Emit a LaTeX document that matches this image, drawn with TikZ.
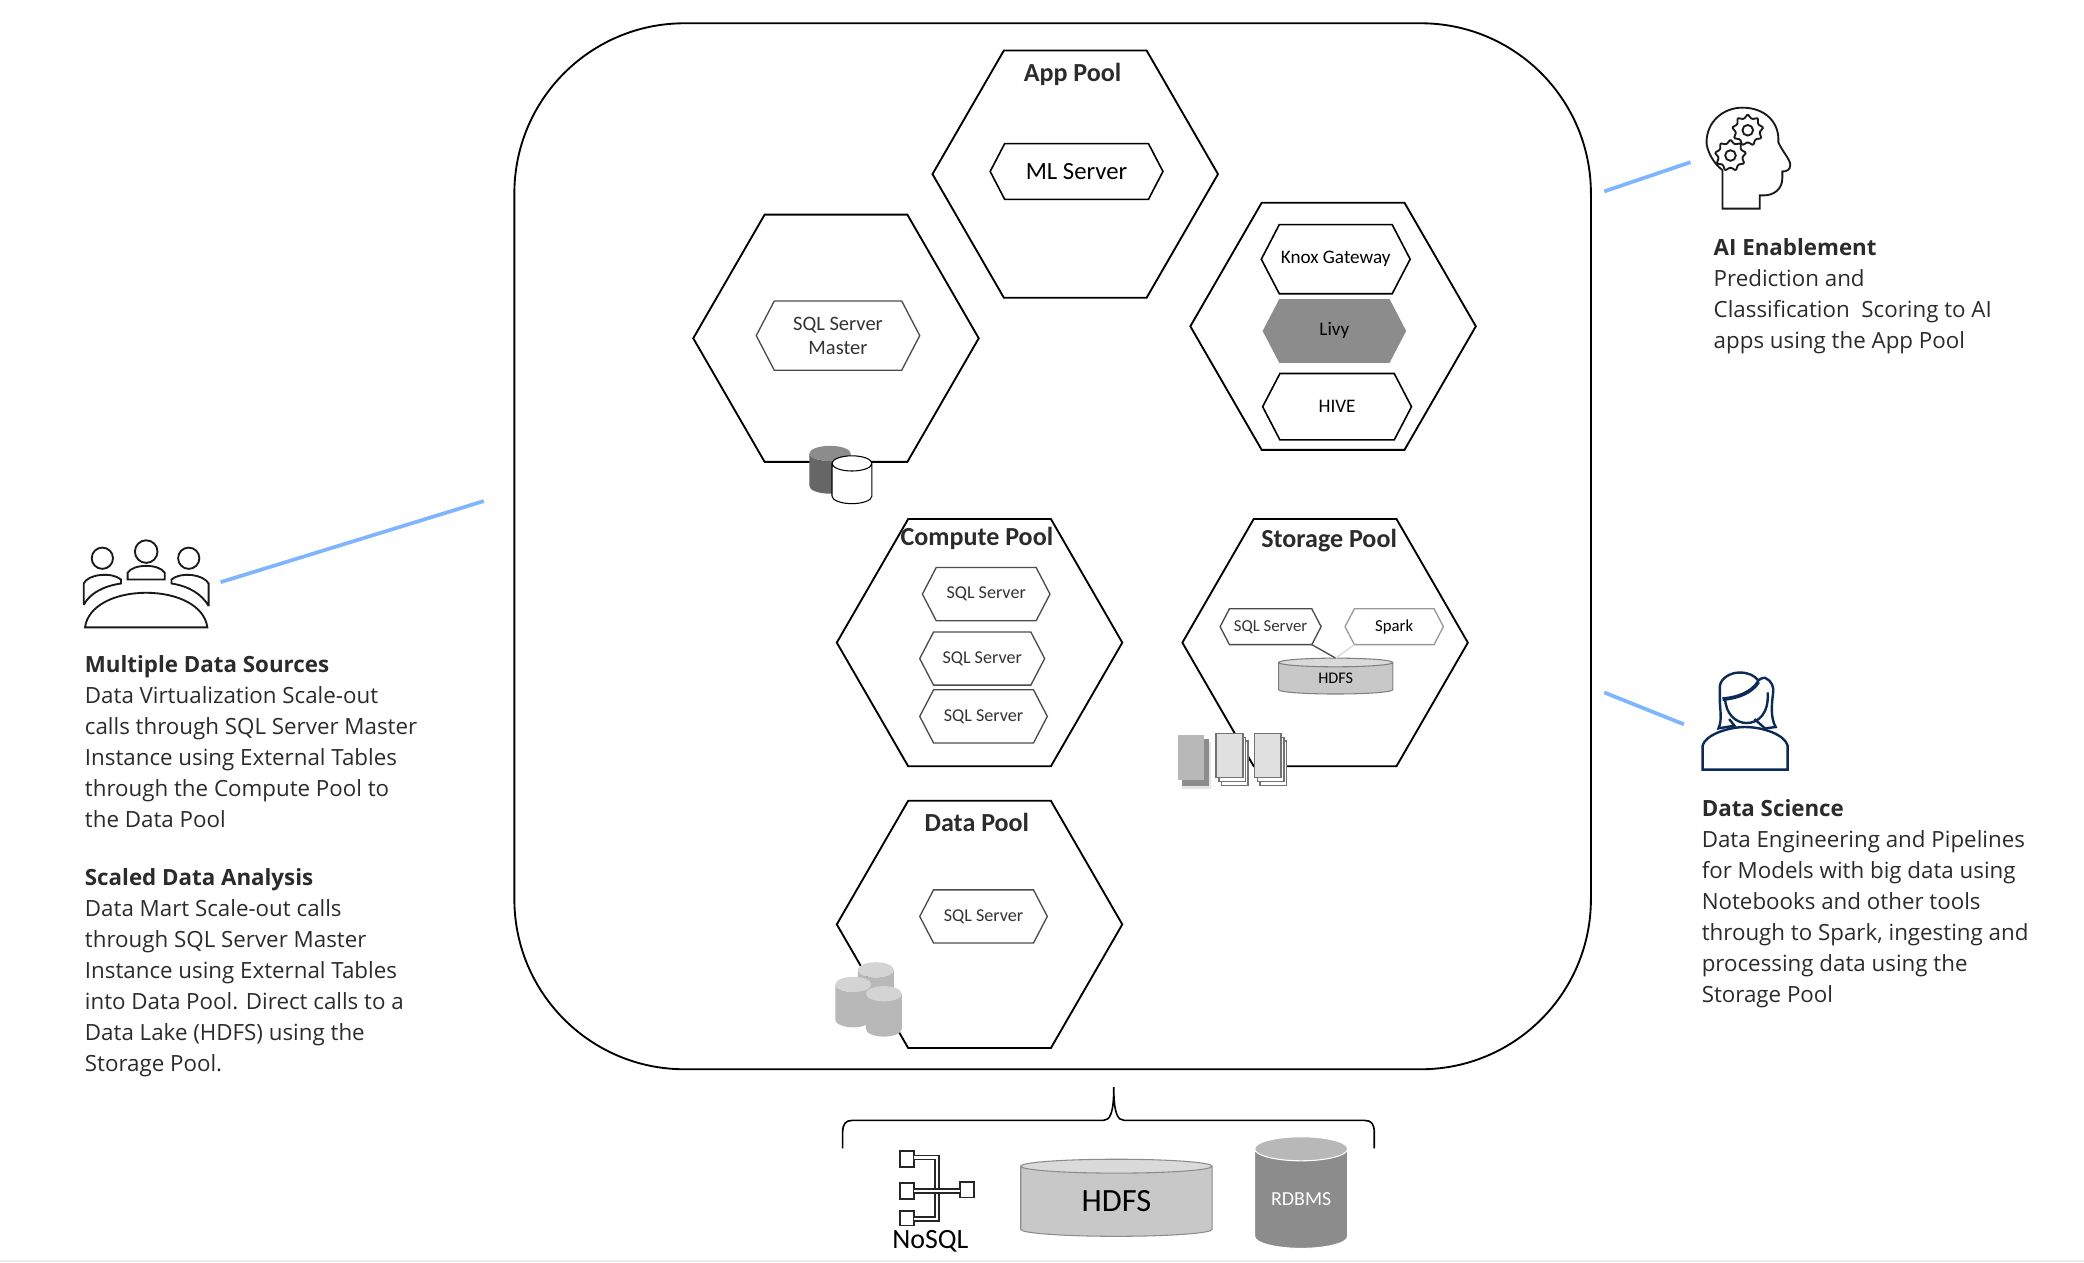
\documentclass[tikz,border=0pt]{standalone}
\usepackage{fontspec}
\setmainfont{Open Sans}
\newfontfamily\poolfont{Carlito}
\usetikzlibrary{shapes.geometric,shapes.symbols}
\definecolor{inktext}{HTML}{2B2B2B}
\definecolor{linkblue}{HTML}{7FB5FF}
\definecolor{navyline}{HTML}{0B2A55}
\definecolor{cylgray}{HTML}{C8C8C8}
\definecolor{cyltop}{HTML}{DADADA}

\begin{document}
\begin{tikzpicture}[x=0.5pt,y=-0.5pt,
    pool/.style={draw, line width=0.7pt, regular polygon, regular polygon sides=6, minimum size=107.4pt, inner sep=0pt, outer sep=0pt},
    pooltitle/.style={font=\poolfont\bfseries\fontsize{9.8}{12}\selectfont, text=inktext, inner sep=0pt},
    svc/.style={draw=black!70, line width=0.5pt, fill=white, signal, signal to=east and west, signal pointer angle=125, inner sep=0pt, outer sep=0pt, font=\poolfont\fontsize{6.8}{9.2}\selectfont, text=black!80, align=center},
    svcb/.style={svc, draw=black, line width=0.6pt, text=black},
    db/.style={cylinder, shape border rotate=90, cylinder uses custom fill, inner sep=0pt, outer sep=0pt, line width=0.4pt},
    blurb/.style={anchor=north west, align=left, inner sep=0pt, text=inktext, font=\fontsize{8.4}{11.65}\selectfont},
    link/.style={linkblue, line width=1.4pt},
    icon/.style={line width=0.7pt, black!90},
    doc/.style={draw=black!55, fill=black!12, line width=0.6pt}]
    \useasboundingbox (0,0) rectangle (1568,949.6);
    \fill[black!8] (0,948) rectangle (1568,949.6);

    % cluster
    \node[draw, line width=0.7pt, rounded corners=64pt, minimum width=405pt, minimum height=393.5pt, outer sep=0pt] (cluster) at (792,411) {};

    % pools
    \node[pool] (apppool) at (809,131) {};
    \node[pool] (masterpool) at (629,254.5) {};
    \node[pool] (gatewaypool) at (1003,245.5) {};
    \node[pool] (computepool) at (737,483.5) {};
    \node[pool] (storagepool) at (997,483.5) {};
    \node[pool] (datapool) at (737,695.5) {};

    \node[pooltitle] (apptitle) at (807,56) {App Pool};
    \node[pooltitle] (computetitle) at (735,405) {Compute Pool};
    \node[pooltitle] (storagetitle) at (1000,407) {Storage Pool};
    \node[pooltitle] (datatitle) at (735,619) {Data Pool};

    % services
    \node[svcb, minimum width=65pt, minimum height=21pt, font=\poolfont\fontsize{9.3}{11}\selectfont] (mlserver) at (810,129) {ML Server};
    \node[svc, minimum width=61.5pt, minimum height=26pt, font=\poolfont\fontsize{7.7}{9}\selectfont] (master) at (630.5,252.5) {SQL Server\\Master};
    \node[svcb, minimum width=56pt, minimum height=26pt, font=\poolfont\fontsize{7.2}{9}\selectfont] (knox) at (1005,195) {Knox Gateway};
    \node[svc, draw=none, fill=black!45, text=black, minimum width=54pt, minimum height=24pt, font=\poolfont\fontsize{7.2}{9}\selectfont] (livy) at (1004,249) {Livy};
    \node[svcb, minimum width=56pt, minimum height=25pt, font=\poolfont\fontsize{7.2}{9}\selectfont] (hive) at (1006,306) {HIVE};

    \node[svc, minimum width=48pt, minimum height=20pt] (computea) at (742,447) {SQL Server};
    \node[svc, minimum width=47pt, minimum height=20pt] (computeb) at (739,495.5) {SQL Server};
    \node[svc, minimum width=48pt, minimum height=20pt] (computec) at (740,539) {SQL Server};
    \node[svc, minimum width=48pt, minimum height=20pt] (datasql) at (740,689.5) {SQL Server};

    \node[svc, minimum width=38pt, minimum height=13.5pt, font=\poolfont\fontsize{6.3}{8}\selectfont] (storagesql) at (956,471.5) {SQL Server};
    \node[svc, draw=black!40, text=black, minimum width=37pt, minimum height=13.5pt, font=\poolfont\fontsize{6.3}{8}\selectfont] (spark) at (1049,471.5) {Spark};
    \node[db, draw=black!50, cylinder body fill=cylgray, cylinder end fill=cyltop, aspect=0.25, minimum width=43pt, minimum height=13.5pt, font=\poolfont\fontsize{6.1}{8}\selectfont, text=black] (storagehdfs) at (1005,510.5) {HDFS};
    \draw[black!70, line width=0.5pt] (storagesql.south east)--(storagehdfs.top);
    \draw[black!15, line width=0.5pt] (spark.south west)--(storagehdfs.top);

    % master disks
    \node[db, cylinder body fill=black!60, cylinder end fill=black!45, aspect=0.5, minimum width=15.5pt, minimum height=18pt] (masterdark) at (624.5,356.5) {\hphantom{00}};
    \node[db, draw=black, cylinder body fill=white, cylinder end fill=white, aspect=0.5, minimum width=15pt, minimum height=18pt] (masterwhite) at (641,364) {\hphantom{00}};

    % data disks
    \foreach \dname/\dx/\dy in {dataa/659/746, datab/642/757, datac/665/764}
        \node[db, cylinder body fill=black!28, cylinder end fill=black!17, aspect=0.5, minimum width=13.5pt, minimum height=19pt] (\dname) at (\dx,\dy) {\hphantom{00}};

    % storage documents
    \begin{scope}[shift={(886,553)}]
        \fill[black!10] (3,5) rectangle (25,41);
        \fill[black!45] (3,3) rectangle (24,38);
        \fill[black!28] (0,0) rectangle (20,34);
    \end{scope}
    \foreach \sx in {915,944} {
        \begin{scope}[shift={(\sx,552)}]
            \draw[doc, fill=white] (4,5.5) rectangle (24,39);
            \draw[doc, fill=white] (2,3) rectangle (22,36);
            \draw[doc] (0,0) rectangle (20,33);
        \end{scope}
    }

    % sources below the cluster
    \draw[line width=0.6pt] (634,864) -- (634,852) .. controls (634,846) and (636,843) .. (641,843) -- (830,843) .. controls (835,843) and (838,838) .. (838,818) .. controls (838,838) and (841,843) .. (846,843) -- (1027,843) .. controls (1032,843) and (1034,846) .. (1034,852) -- (1034,864);
    \node[db, draw=black!45, cylinder body fill=cylgray, cylinder end fill=cyltop, aspect=0.2, minimum width=72pt, minimum height=29pt, font=\poolfont\fontsize{12.2}{15}\selectfont, text=black] (hdfs) at (840,904) {HDFS};
    \node[db, draw=white, cylinder body fill=black!45, cylinder end fill=black!28, aspect=0.4, minimum width=35pt, minimum height=42pt, font=\poolfont\fontsize{7.5}{9}\selectfont, text=white] (rdbms) at (979,902) {RDBMS};
    \begin{scope}[line width=0.7pt, black!85]
        \draw (677,866) rectangle (688,878);
        \draw (677,890) rectangle (688,902);
        \draw (677,911) rectangle (688,922);
        \draw (722,889) rectangle (733,901);
        \draw[double=white, double distance=0.9pt, line width=0.6pt] (688,871) -| (705,917) -- (688,917);
        \draw[double=white, double distance=0.9pt, line width=0.6pt] (688,896) -- (722,896);
    \end{scope}
    \node[font=\poolfont\fontsize{10.5}{12}\selectfont, text=black, inner sep=0pt] (nosql) at (700,934) {NoSQL};

    % people icon
    \begin{scope}[icon]
        \draw (77,420) circle (8);
        \draw (110,415) circle (8.5);
        \draw (142,420) circle (8);
        \draw (64,472) .. controls (66,456) and (86,446) .. (110,446) .. controls (134,446) and (154,456) .. (156,472) -- cycle;
        \draw (63,455) -- (63,439) .. controls (66,432) and (84,430) .. (91,436) -- (91,439) .. controls (78,441) and (68,446) .. (63,455);
        \draw (96,436) -- (96,431) .. controls (100,424) and (120,424) .. (124,431) -- (124,436) -- cycle;
        \draw (157,456) -- (157,439) .. controls (153,432) and (136,430) .. (129,436) -- (129,439) .. controls (142,441) and (152,447) .. (157,456);
    \end{scope}
    \coordinate (peoplelink) at (166,438);
    \coordinate (clusterlinka) at (364,377);
    \draw[link] (peoplelink)--(clusterlinka);

    % head icon
    \begin{scope}[icon]
        \draw (1296,157) -- (1296,128) .. controls (1288,122) and (1284,112) .. (1284,107) .. controls (1284,92) and (1296,81) .. (1311,81) .. controls (1328,81) and (1339,92) .. (1338,107) .. controls (1341,114) and (1347,120) .. (1347,124) .. controls (1347,128) and (1344,129) .. (1341,129) -- (1341,134) .. controls (1341,142) and (1335,147) .. (1327,147) -- (1324,147) -- (1324,157) -- cycle;
        \node[draw, star, star points=9, star point ratio=1.35, minimum size=12pt, inner sep=0pt, rounded corners=0.4pt] (gearup) at (1315,98) {};
        \draw (gearup.center) circle (4);
        \node[draw, star, star points=9, star point ratio=1.35, minimum size=12pt, inner sep=0pt, rounded corners=0.4pt] (geardown) at (1302,117) {};
        \draw (geardown.center) circle (4);
    \end{scope}
    \coordinate (headlink) at (1272,122);
    \coordinate (clusterlinkb) at (1207,144);
    \draw[link] (headlink)--(clusterlinkb);

    % woman icon
    \begin{scope}[icon, navyline, line width=0.9pt]
        \draw (1281,579) -- (1281,561) .. controls (1283,553) and (1300,547) .. (1313,547) .. controls (1327,547) and (1343,553) .. (1345,561) -- (1345,579) -- cycle;
        % face
        \draw (1298,525) .. controls (1298,537) and (1306,544) .. (1314,544) .. controls (1323,544) and (1331,537) .. (1330,521);
        % hair
        \draw (1301,541) -- (1305,546) -- (1293,548) .. controls (1296,541) and (1294,534) .. (1294,527) -- (1294,516) .. controls (1295,510) and (1302,506) .. (1309,506) .. controls (1315,506) and (1320,508) .. (1323,512) .. controls (1325,510) and (1327,510) .. (1328,510) .. controls (1333,512) and (1335,517) .. (1334,522) .. controls (1333,530) and (1332,540) .. (1336,547) -- (1328,548) -- (1320,541);
        \draw[line width=1.4pt] (1296,526) .. controls (1308,525) and (1318,521) .. (1323,513);
    \end{scope}
    \coordinate (womanlink) at (1267,545);
    \coordinate (clusterlinkc) at (1207,521);
    \draw[link] (womanlink)--(clusterlinkc);

    % texts
    \node[blurb] (sourcestext) at (63.5,493) {\textbf{Multiple Data Sources}\\Data Virtualization Scale-out\\calls through SQL Server Master\\Instance using External Tables\\through the Compute Pool to\\the Data Pool};
    \node[blurb] (analysistext) at (63.5,653) {\textbf{Scaled Data Analysis}\\Data Mart Scale-out calls\\through SQL Server Master\\Instance using External Tables\\into Data Pool. Direct calls to a\\Data Lake (HDFS) using the\\Storage Pool.};
    \node[blurb] (aitext) at (1289,179) {\textbf{AI Enablement}\\Prediction and\\Classification\ \ Scoring to AI\\apps using the App Pool};
    \node[blurb] (sciencetext) at (1280,601) {\textbf{Data Science}\\Data Engineering and Pipelines\\for Models with big data using\\Notebooks and other tools\\through to Spark, ingesting and\\processing data using the\\Storage Pool};
\end{tikzpicture}
\end{document}
